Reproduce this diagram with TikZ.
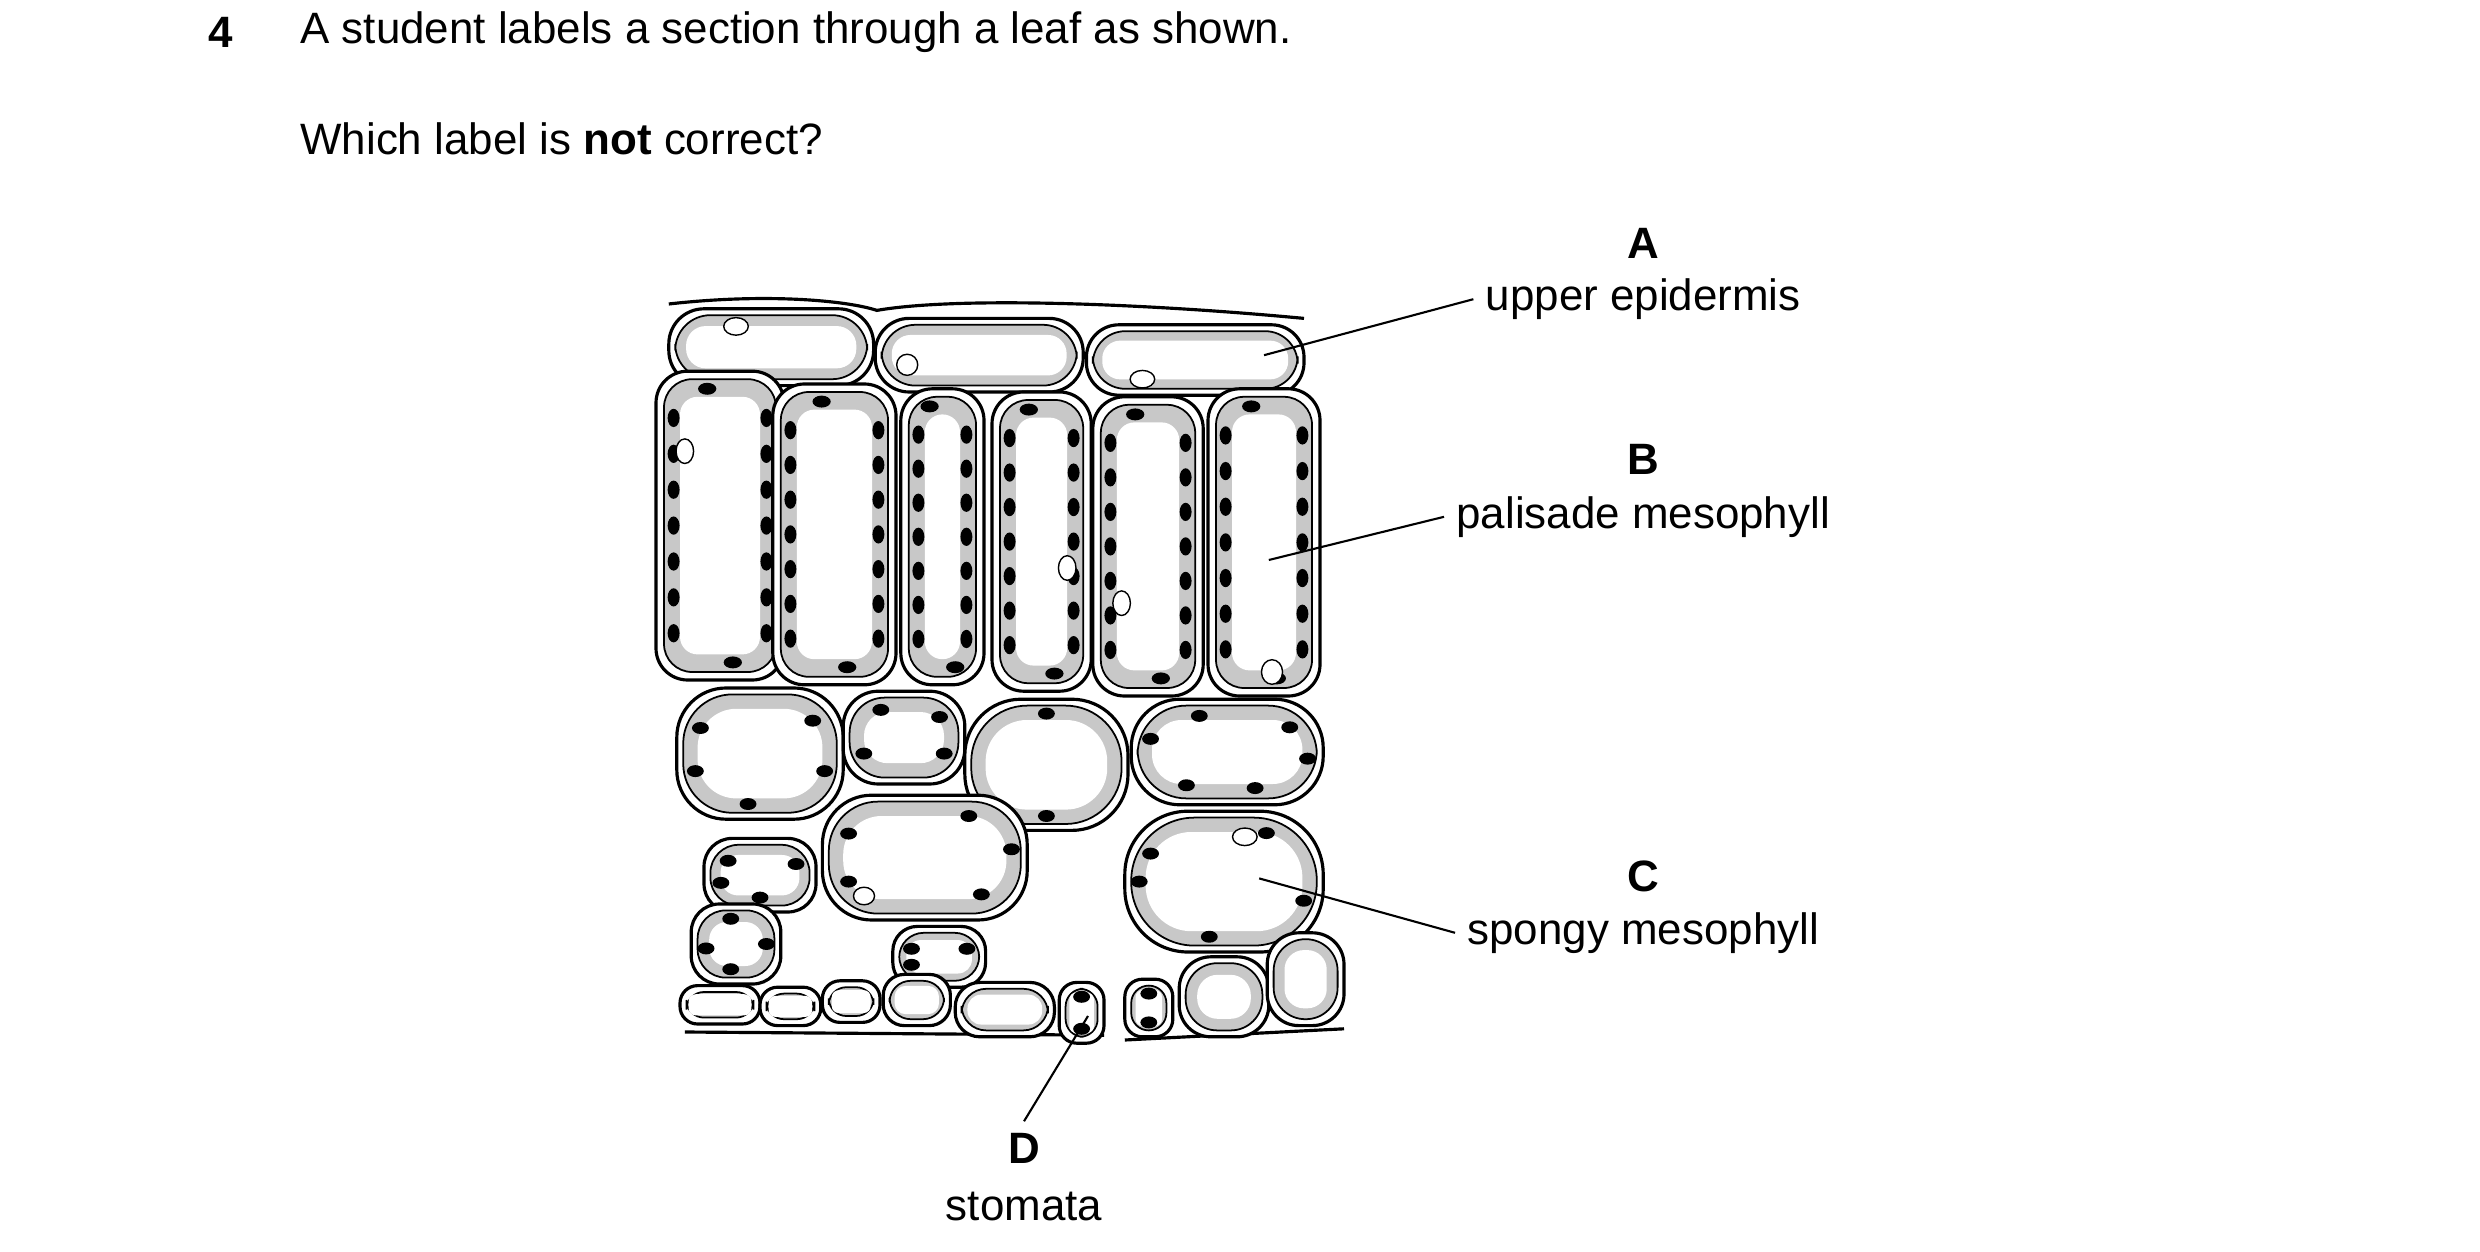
\documentclass[tikz,border=0pt]{standalone}
\usepackage{fontspec}
\setmainfont{Liberation Sans}
\definecolor{Cyto}{HTML}{C8C8C8}
\tikzset{
  wall/.style={line width=0.9pt, fill=white},
  lbl/.style={font=\fontsize{12.5}{15}\selectfont},
  lead/.style={line width=0.6pt}
}
% palisade cell: x1 y1 x2 y2 number of chloroplasts per side
\newcommand{\pali}[5]{%
  \draw[wall, rounded corners=9pt] (#1,#2) rectangle (#3,#4);
  \filldraw[fill=Cyto, line width=0.5pt, rounded corners=8pt] (#1+5,#2+5) rectangle (#3-5,#4-5);
  \fill[white, rounded corners=5pt] (#1+15,#2+16) rectangle (#3-15,#4-16);
  \foreach \k in {1,...,#5} {
    \fill ({#1+11},{#2+18+(\k-0.5)*(#4-#2-36)/#5}) ellipse [x radius=1.7pt, y radius=2.6pt];
    \fill ({#3-11},{#2+18+(\k-0.5)*(#4-#2-36)/#5}) ellipse [x radius=1.7pt, y radius=2.6pt];
  }
  \fill ({(#1+#3)/2-8},{#2+11}) ellipse [x radius=2.6pt, y radius=1.7pt];
  \fill ({(#1+#3)/2+8},{#4-11}) ellipse [x radius=2.6pt, y radius=1.7pt];
}
% rounded cell: cx cy rx ry corner(pt, number) list of chloroplast angles
\newcommand{\spon}[6]{%
  \pgfmathsetmacro\ins{min(13,0.45*min(#3,#4))}%
  \pgfmathsetmacro\rout{min(#5,0.42*min(#3,#4))}%
  \pgfmathsetmacro\rin{max(0.5,min(#5-3,0.42*(min(#3,#4)-\ins)))}%
  \draw[wall, rounded corners=\rout pt] (#1-#3,#2-#4) rectangle (#1+#3,#2+#4);
  \filldraw[fill=Cyto, line width=0.5pt, rounded corners=\rout pt] (#1-#3+4,#2-#4+4) rectangle (#1+#3-4,#2+#4-4);
  \fill[white, rounded corners=\rin pt] (#1-#3+\ins,#2-#4+\ins) rectangle (#1+#3-\ins,#2+#4-\ins);
  \foreach \a in {#6} {
    \fill ({#1+(#3-9)*cos(\a)},{#2+(#4-9)*sin(\a)}) ellipse [x radius=2.4pt, y radius=1.7pt];
  }
}
\begin{document}
\begin{tikzpicture}[x=0.016cm, y=-0.016cm]
  \useasboundingbox (0,0) rectangle (1550,782);

  %%%%%%%%%% Question %%%%%%%%%%
  \node[lbl, font=\fontsize{12.5}{15}\selectfont\bfseries] (num) at (138,20) {4};
  \node[lbl, anchor=west] (ques) at (180,20) {A student labels a section through a leaf as shown.};
  \node[lbl, anchor=west] (which) at (180,87) {Which label is \textbf{not} correct?};

  %%%%%%%%%% Cuticles %%%%%%%%%%
  \draw[line width=0.9pt] (418,190) .. controls (480,183) and (530,188) .. (548,194)
    .. controls (600,185) and (720,190) .. (815,199);
  \draw[line width=0.9pt] (428,645) -- (690,647) (703,650) -- (840,643);

  %%%%%%%%%% Upper epidermis %%%%%%%%%%
  \spon{482}{217}{64}{24}{10}{}
  \spon{612}{222}{65}{23}{10}{}
  \spon{747}{225}{68}{22}{10}{}
  \filldraw[fill=white] (460,204) ellipse [x radius=3.5pt, y radius=2.5pt];
  \filldraw[fill=white] (567,228) ellipse [x radius=3pt, y radius=3pt];
  \filldraw[fill=white] (714,237) ellipse [x radius=3.5pt, y radius=2.5pt];

  %%%%%%%%%% Palisade mesophyll %%%%%%%%%%
  \pali{410}{232}{490}{425}{7}
  \pali{483}{240}{560}{428}{7}
  \pali{563}{243}{615}{428}{7}
  \pali{620}{245}{682}{432}{7}
  \pali{683}{248}{752}{435}{7}
  \pali{755}{243}{825}{435}{7}
  \filldraw[fill=white] (428,282) ellipse [x radius=2.5pt, y radius=3.5pt];
  \filldraw[fill=white] (667,355) ellipse [x radius=2.5pt, y radius=3.5pt];
  \filldraw[fill=white] (701,377) ellipse [x radius=2.5pt, y radius=3.5pt];
  \filldraw[fill=white] (795,420) ellipse [x radius=3pt, y radius=3.5pt];

  %%%%%%%%%% Spongy mesophyll %%%%%%%%%%
  \spon{475}{471}{52}{41}{14}{-150,-40,20,100,160}
  \spon{565}{461}{38}{29}{10}{-120,-40,30,150}
  \spon{654}{478}{51}{41}{16}{-90,90}
  \spon{767}{470}{60}{33}{14}{-110,-40,10,70,120,200}
  \spon{475}{547}{35}{23}{8}{-140,-30,90,160}
  \spon{578}{536}{64}{39}{14}{-150,-60,-10,50,150}
  \spon{765}{551}{62}{44}{18}{-150,-60,20,100,180}
  \spon{460}{590}{28}{25}{8}{-100,0,100,170}
  \spon{587}{598}{29}{19}{7}{-150,-30,150}
  \filldraw[fill=white] (778,523) ellipse [x radius=3.5pt, y radius=2.5pt];
  \filldraw[fill=white] (540,560) ellipse [x radius=3pt, y radius=2.5pt];

  %%%%%%%%%% Lower epidermis %%%%%%%%%%
  \spon{450}{628}{25}{12}{5}{}
  \spon{494}{629}{19}{12}{5}{}
  \spon{532}{626}{18}{13}{5}{}
  \spon{573}{625}{21}{16}{6}{}
  \spon{628}{631}{31}{17}{7}{}
  \spon{676}{633}{14}{19}{5}{-90,90}
  \spon{718}{630}{15}{18}{5}{-90,90}
  \spon{765}{623}{28}{25}{9}{}
  \spon{816}{612}{24}{29}{9}{}

  %%%%%%%%%% Labels %%%%%%%%%%
  \node[lbl, font=\fontsize{12.5}{15}\selectfont\bfseries] (keyA) at (1027,152) {A};
  \node[lbl] (nameA) at (1027,187) {upper epidermis};
  \node[lbl, font=\fontsize{12.5}{15}\selectfont\bfseries] (keyB) at (1027,287) {B};
  \node[lbl] (nameB) at (1027,323) {palisade mesophyll};
  \node[lbl, font=\fontsize{12.5}{15}\selectfont\bfseries] (keyC) at (1027,548) {C};
  \node[lbl] (nameC) at (1027,583) {spongy mesophyll};
  \node[lbl, font=\fontsize{12.5}{15}\selectfont\bfseries] (keyD) at (640,718) {D};
  \node[lbl] (nameD) at (640,754) {stomata};

  \coordinate (tipA) at (790,222);
  \coordinate (tipB) at (793,350);
  \coordinate (tipC) at (787,549);
  \coordinate (tipD) at (680,635);
  \draw[lead] (nameA.west) -- (tipA);
  \draw[lead] (nameB.west) -- (tipB);
  \draw[lead] (nameC.west) -- (tipC);
  \draw[lead] (keyD.north) -- (tipD);
\end{tikzpicture}
\end{document}
